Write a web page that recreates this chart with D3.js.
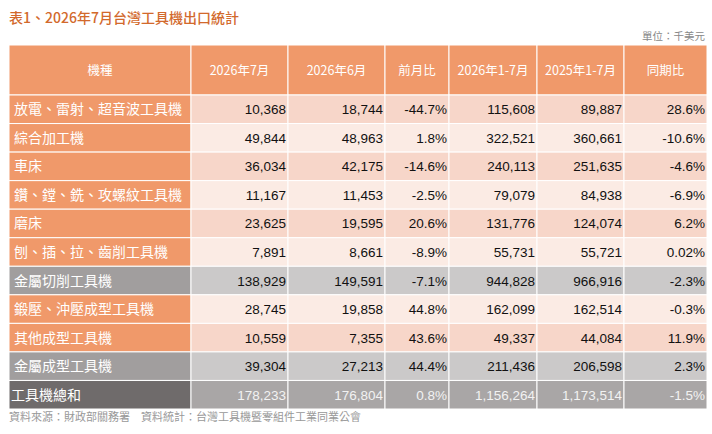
<!DOCTYPE html>
<html>
<head>
<meta charset="utf-8">
<script src="https://d3js.org/d3.v7.min.js"></script>
<style>
  body { margin: 0; background: #fff; font-family: "Liberation Sans", Arial, sans-serif; }
</style>
</head>
<body>
<div id="chart"></div>
<script>
// Table data
const headers = ["機種", "2026年7月", "2026年6月", "前月比", "2026年1-7月", "2025年1-7月", "同期比"];
const categories = ["放電、雷射、超音波工具機", "綜合加工機", "車床", "鑽、鏜、銑、攻螺紋工具機", "磨床",
  "刨、插、拉、齒削工具機", "金屬切削工具機", "鍛壓、沖壓成型工具機", "其他成型工具機", "金屬成型工具機", "工具機總和"];
const jul2026 = ["10,368", "49,844", "36,034", "11,167", "23,625", "7,891", "138,929", "28,745", "10,559", "39,304", "178,233"];
const jun2026 = ["18,744", "48,963", "42,175", "11,453", "19,595", "8,661", "149,591", "19,858", "7,355", "27,213", "176,804"];
const momPct = ["-44.7%", "1.8%", "-14.6%", "-2.5%", "20.6%", "-8.9%", "-7.1%", "44.8%", "43.6%", "44.4%", "0.8%"];
const ytd2026 = ["115,608", "322,521", "240,113", "79,079", "131,776", "55,731", "944,828", "162,099", "49,337", "211,436", "1,156,264"];
const ytd2025 = ["89,887", "360,661", "251,635", "84,938", "124,074", "55,721", "966,916", "162,514", "44,084", "206,598", "1,173,514"];
const yoyPct = ["28.6%", "-10.6%", "-4.6%", "-6.9%", "6.2%", "0.02%", "-2.3%", "-0.3%", "11.9%", "2.3%", "-1.5%"];
const rowType = ["d", "d", "d", "d", "d", "d", "sub", "d", "d", "sub", "total"];

const W = 712, H = 434;
const colW = [182, 97, 97, 64, 88, 87, 83];
const x0 = 9, headTop = 45, headH = 50, tableBottom = 409;
const colX = [x0, ...d3.cumsum(colW).map(v => x0 + v)];
const y = d3.scaleBand().domain(d3.range(categories.length)).range([headTop + headH, tableBottom]);

const svg = d3.select("#chart").append("svg").attr("width", W).attr("height", H);

svg.append("text").attr("x", 9).attr("y", 23).attr("fill", "#d2692c")
  .style("font-size", "14px").style("font-family", "Noto Sans CJK TC").style("font-weight", 500)
  .text("表1、2026年7月台灣工具機出口統計");
svg.append("text").attr("x", 705).attr("y", 40).attr("text-anchor", "end").attr("fill", "#888")
  .style("font-size", "10.5px").style("font-family", "Noto Sans CJK TC").text("單位：千美元");

// header
headers.forEach((h, i) => {
  svg.append("rect").attr("x", colX[i]).attr("y", headTop).attr("width", colW[i]).attr("height", headH)
    .attr("fill", "#f0996a").attr("stroke", "#fff").attr("stroke-width", 1);
  svg.append("text").attr("x", colX[i] + colW[i] / 2).attr("y", headTop + headH / 2 + 4.5)
    .attr("text-anchor", "middle").attr("fill", "#fff").style("font-size", "12.5px")
    .style("font-family", "Noto Sans CJK TC").text(h);
});

const cols = [jul2026, jun2026, momPct, ytd2026, ytd2025, yoyPct];
categories.forEach((c, r) => {
  const t = rowType[r];
  const firstFill = t === "total" ? "#6f6b6b" : t === "sub" ? "#a19e9e" : "#f0996a";
  const cellFill = t === "total" ? "#a9a6a6" : t === "sub" ? "#cbc9c9" : (r % 2 === 0 ? "#f7d6c9" : "#fbebe4");
  const textFill = t === "total" ? "#f2f2f2" : "#111";
  const yy = y(r), hh = y.bandwidth();
  svg.append("rect").attr("x", colX[0]).attr("y", yy).attr("width", colW[0]).attr("height", hh)
    .attr("fill", firstFill).attr("stroke", "#fff");
  svg.append("text").attr("x", colX[0] + (t === "total" ? 2 : 5)).attr("y", yy + hh / 2 + 5)
    .attr("fill", "#fff").style("font-size", "14px").style("font-family", "Noto Sans CJK TC")
    .text(c);
  cols.forEach((col, j) => {
    const i = j + 1;
    svg.append("rect").attr("x", colX[i]).attr("y", yy).attr("width", colW[i]).attr("height", hh)
      .attr("fill", cellFill).attr("stroke", "#fff");
    svg.append("text").attr("x", colX[i] + colW[i] - 2).attr("y", yy + hh / 2 + 5)
      .attr("text-anchor", "end").attr("fill", textFill).style("font-size", "13.5px")
      .text(col[r]);
  });
});

svg.append("text").attr("x", 9).attr("y", 421).attr("fill", "#999")
  .style("font-size", "11px").style("font-family", "Noto Sans CJK TC")
  .text("資料來源：財政部關務署　資料統計：台灣工具機暨零組件工業同業公會");
</script>
</body>
</html>
